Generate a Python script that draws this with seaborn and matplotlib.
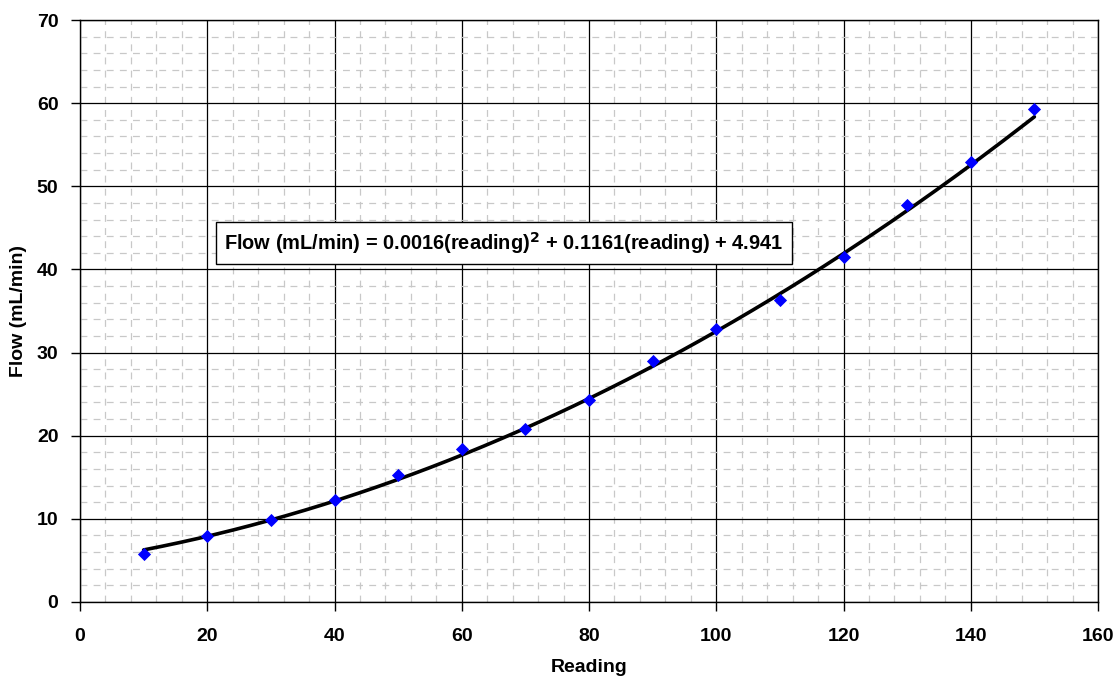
import numpy as np
import pandas as pd
import matplotlib
matplotlib.use("Agg")
import matplotlib.pyplot as plt
from matplotlib.ticker import MultipleLocator
import seaborn as sns

# Calibration readings and measured flow
reading = [10, 20, 30, 40, 50, 60, 70, 80, 90, 100, 110, 120, 130, 140, 150]
flow = [5.8, 7.9, 9.9, 12.3, 15.3, 18.4, 20.8, 24.3, 29.0, 32.8, 36.3, 41.5, 47.8, 52.9, 59.3]

# Quadratic trendline coefficients (a*x^2 + b*x + c)
coef_a, coef_b, coef_c = 0.0016, 0.1161, 4.941

sns.set_theme(style="white")
plt.rcParams["font.family"] = ["Liberation Sans", "DejaVu Sans"]
plt.rcParams["font.weight"] = "bold"
plt.rcParams["text.color"] = "black"
plt.rcParams["axes.labelcolor"] = "black"
plt.rcParams["xtick.color"] = "black"
plt.rcParams["ytick.color"] = "black"

FS = 14

fig = plt.figure(figsize=(11.19, 6.79), dpi=100)
ax = fig.add_axes([80 / 1119, 1 - 602 / 679, (1098 - 80) / 1119, (602 - 20) / 679])

df = pd.DataFrame({"Reading": reading, "Flow": flow})
x_fit = np.linspace(min(reading), max(reading), 200)
fit = pd.DataFrame({"Reading": x_fit, "Flow": coef_a * x_fit**2 + coef_b * x_fit + coef_c})

sns.lineplot(data=fit, x="Reading", y="Flow", ax=ax, color="black", linewidth=2.6, zorder=3)
sns.scatterplot(data=df, x="Reading", y="Flow", ax=ax, marker="D", color="#0000ff",
                s=45, edgecolor="#0000ff", linewidth=0, zorder=4)

ax.set_xlim(0, 160)
ax.set_ylim(0, 70)
ax.xaxis.set_major_locator(MultipleLocator(20))
ax.yaxis.set_major_locator(MultipleLocator(10))
ax.xaxis.set_minor_locator(MultipleLocator(4))
ax.yaxis.set_minor_locator(MultipleLocator(2))

ax.grid(which="minor", color="#c8c8c8", linestyle=(0, (5.5, 5)), linewidth=0.9, zorder=0)
ax.grid(which="major", color="black", linestyle="-", linewidth=0.9, zorder=1)
ax.set_axisbelow(True)

ax.tick_params(which="major", direction="out", length=6.5, width=1, color="black",
               labelsize=FS, bottom=True, left=True)
ax.tick_params(axis="x", which="major", pad=12)
ax.tick_params(axis="y", which="major", pad=9)
ax.tick_params(which="minor", length=0)
for lab in ax.get_xticklabels() + ax.get_yticklabels():
    lab.set_fontweight("bold")

for sp in ax.spines.values():
    sp.set_color("black")
    sp.set_linewidth(1)

ax.set_xlabel("Reading", fontsize=FS, fontweight="bold", labelpad=10)
ax.set_ylabel("Flow (mL/min)", fontsize=FS, fontweight="bold", labelpad=7)

ax.text(22.7, 43.2,
        r"Flow (mL/min) = 0.0016(reading)$^{\mathbf{2}}$ + 0.1161(reading) + 4.941",
        fontsize=14.4, fontweight="bold", ha="left", va="center", zorder=5,
        bbox=dict(boxstyle="square,pad=0.4", facecolor="white", edgecolor="black", linewidth=1))

fig.savefig("out.png", dpi=100)
